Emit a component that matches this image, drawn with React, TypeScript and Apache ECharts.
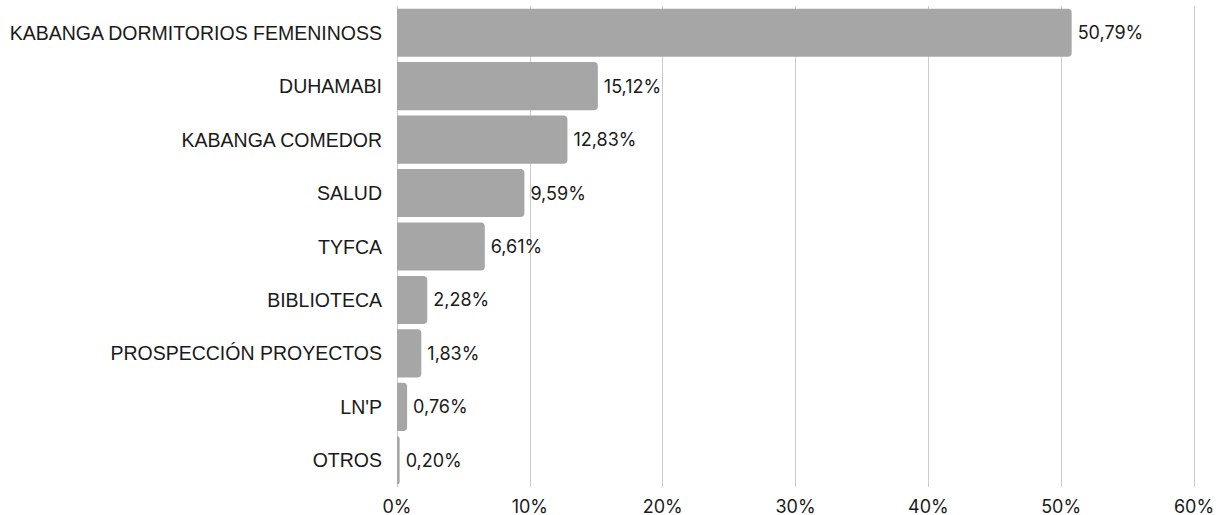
import React, { useEffect, useRef } from "react";
import * as echarts from "echarts";

const categories = [
  "KABANGA DORMITORIOS FEMENINOSS",
  "DUHAMABI",
  "KABANGA COMEDOR",
  "SALUD",
  "TYFCA",
  "BIBLIOTECA",
  "PROSPECCIÓN PROYECTOS",
  "LN'P",
  "OTROS",
];
const values = [50.79, 15.12, 12.83, 9.59, 6.61, 2.28, 1.83, 0.76, 0.2];
const xTicks = [0, 10, 20, 30, 40, 50, 60];

export default function App() {
  const ref = useRef<HTMLDivElement>(null);
  useEffect(() => {
    document.body.style.margin = "0";
    const chart = echarts.init(ref.current!, null, { renderer: "svg" });
    chart.setOption({
      animation: false,
      grid: { left: 397, right: 31, top: 6, bottom: 28, containLabel: false },
      xAxis: {
        type: "value",
        min: xTicks[0],
        max: xTicks[xTicks.length - 1],
        interval: 10,
        axisLine: { show: false },
        axisTick: { show: false },
        splitLine: { lineStyle: { color: "#cccccc", width: 1 } },
        axisLabel: {
          formatter: (v: number) => `${v}%`,
          color: "#1a1a1a",
          fontFamily: "Inter",
          fontSize: 18,
          margin: 10,
        },
      },
      yAxis: {
        type: "category",
        data: categories,
        inverse: true,
        axisLine: { show: true, lineStyle: { color: "#cccccc" } },
        axisTick: { show: false },
        axisLabel: {
          color: "#1a1a1a",
          fontFamily: "Liberation Sans",
          fontSize: 19.5,
          margin: 15,
          padding: [4, 0, 0, 0],
        },
      },
      series: [
        {
          type: "bar",
          data: values,
          barCategoryGap: "10%",
          itemStyle: { color: "#a6a6a6", borderRadius: [0, 4, 4, 0] },
          label: {
            show: true,
            position: "right",
            distance: 6,
            color: "#1a1a1a",
            fontFamily: "Inter",
            fontSize: 18,
            formatter: (p: any) => `${p.value.toFixed(2).replace(".", ",")}%`,
          },
        },
      ],
    });
    return () => chart.dispose();
  }, []);
  return <div ref={ref} style={{ width: 1225, height: 515 }} />;
}
